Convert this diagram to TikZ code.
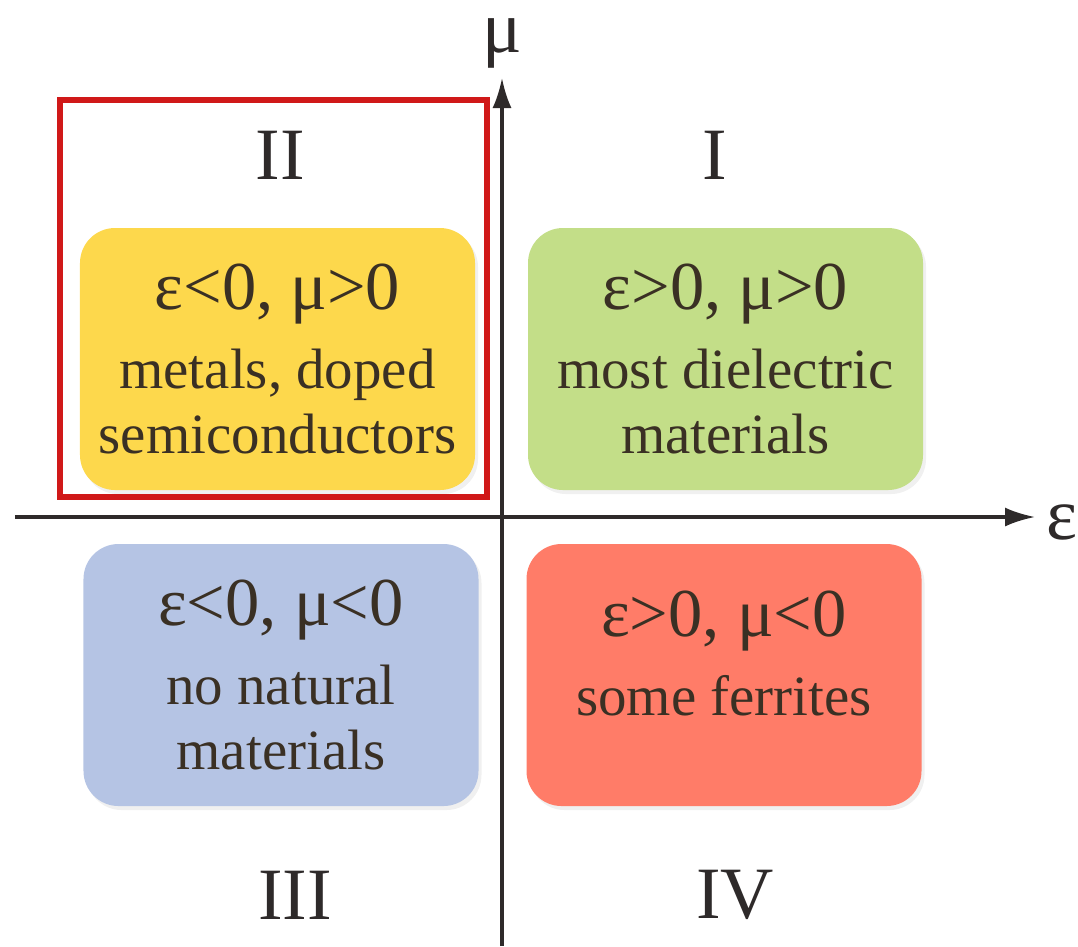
\documentclass[tikz,border=0pt]{standalone}
\usepackage{fontspec}
\setmainfont{Liberation Serif}
\usepackage{xcolor}
\usepackage{tikz}
\usetikzlibrary{arrows.meta,shadows}
\definecolor{quadyellow}{HTML}{FDD84C}
\definecolor{quadgreen}{HTML}{C3DE88}
\definecolor{quadblue}{HTML}{B5C4E4}
\definecolor{quadred}{HTML}{FF7C68}
\definecolor{axisdark}{HTML}{2E2A2A}
\definecolor{textdark}{HTML}{3A3024}
\definecolor{framered}{HTML}{D01818}
\newcommand{\signs}[1]{{\fontsize{19.5}{22}\selectfont #1}}

\begin{document}
\begin{tikzpicture}[
        cell/.style={
            rounded corners=0.35cm,
            minimum width=3.95cm,
            minimum height=2.62cm,
            align=center,
            text=textdark,
            font=\fontsize{16.2}{18.5}\selectfont,
            drop shadow={opacity=0.12,shadow xshift=0.03cm,shadow yshift=-0.04cm}
        },
        quad/.style={font=\fontsize{21}{25}\selectfont,text=axisdark,inner sep=1pt},
        axis/.style={-{Latex[length=0.3cm,width=0.19cm]},line width=0.9pt,axisdark}
    ]
        \useasboundingbox (-5.02,-4.29) rectangle (5.76,5.17);

        \node[cell,fill=quadyellow] (metals) at (-2.245,1.58)
            {\signs{ε<0, μ>0}\\[4pt]metals, doped\\semiconductors};
        \node[cell,fill=quadgreen] (dielectric) at (2.235,1.58)
            {\signs{ε>0, μ>0}\\[4pt]most dielectric\\materials};
        \node[cell,fill=quadblue] (nonatural) at (-2.21,-1.58)
            {\signs{ε<0, μ<0}\\[4pt]no natural\\materials};
        \node[cell,fill=quadred,text depth=0.44cm] (ferrites) at (2.22,-1.58)
            {\signs{ε>0, μ<0}\\[4pt]some ferrites};

        \coordinate (west) at (-4.87,0);
        \coordinate (east) at (5.33,0);
        \coordinate (south) at (0,-4.29);
        \coordinate (north) at (0,4.39);
        \draw[axis] (west) -- (east);
        \draw[axis] (south) -- (north);
        \node[quad] (epslabel) at (5.60,-0.05) {ε};
        \node[quad] (mulabel) at (0.0,4.74) {μ};

        \node[quad] (second) at (-2.22,3.62) {II};
        \node[quad] (first) at (2.13,3.62) {I};
        \node[quad] (third) at (-2.07,-3.78) {III};
        \node[quad] (fourth) at (2.33,-3.78) {IV};

        \draw[framered,line width=1.5pt] (-4.42,0.20) rectangle (-0.15,4.17);
    \end{tikzpicture}
\end{document}
